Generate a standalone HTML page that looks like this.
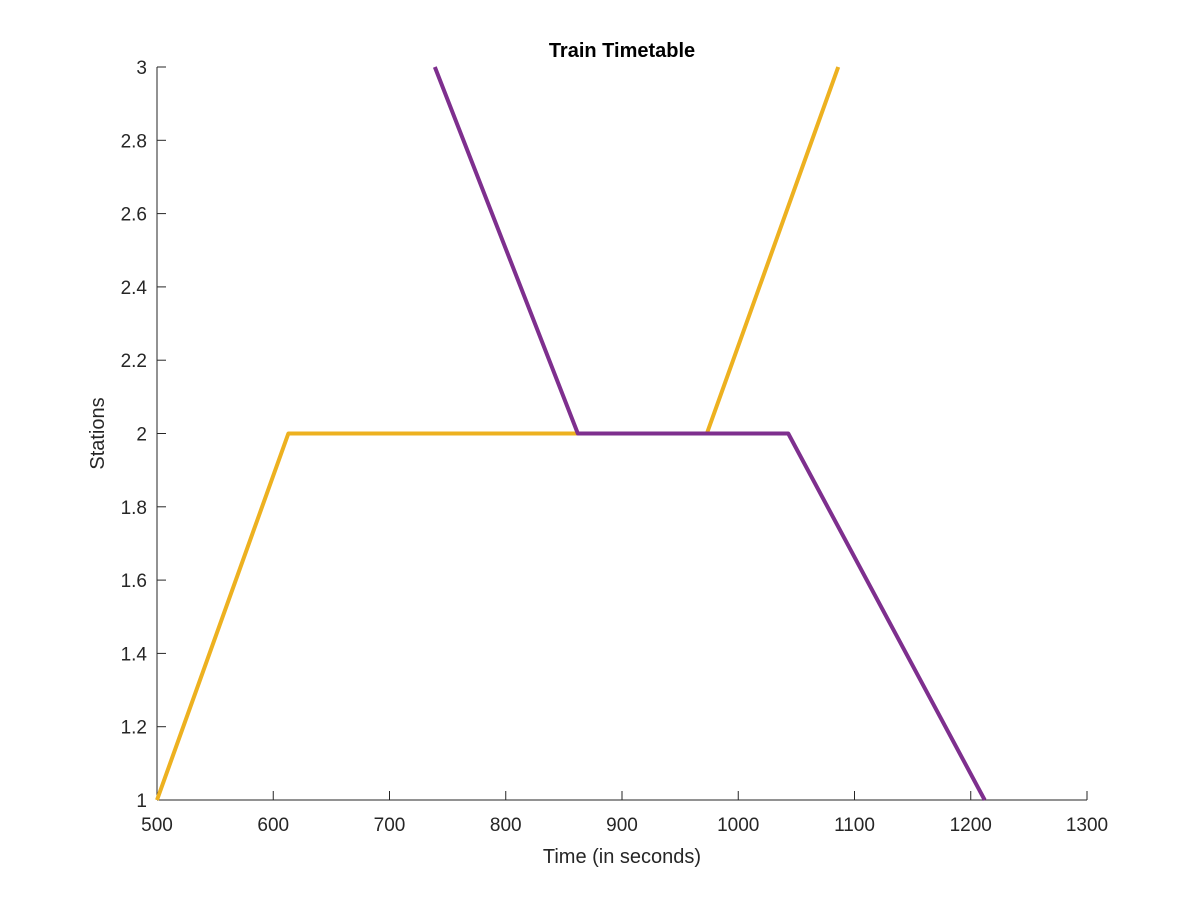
<!DOCTYPE html>
<html><head><meta charset="utf-8"><style>
body{margin:0;background:#fff;}
svg text{font-family:"Liberation Sans",Arial,sans-serif;fill:#262626;}
</style></head><body>
<svg id="chart" width="1200" height="900" xmlns="http://www.w3.org/2000/svg">
<rect width="1200" height="900" fill="#fff"/>
<g id="axes"></g>
<g id="series"></g>
</svg>
<script>
const xTicks=[500,600,700,800,900,1000,1100,1200,1300];
const yTicks=[1,1.2,1.4,1.6,1.8,2,2.2,2.4,2.6,2.8,3];
const yTickLabels=["1","1.2","1.4","1.6","1.8","2","2.2","2.4","2.6","2.8","3"];
const train1Time=[500,613,973,1086];
const train1Station=[1,2,2,3];
const train2Time=[739,862,1043,1212];
const train2Station=[3,2,2,1];

const X0=157,X1=1087,Y0=800,Y1=67;
const sx=v=>X0+(v-500)/(1300-500)*(X1-X0);
const sy=v=>Y0-(v-1)/(3-1)*(Y0-Y1);
const NS="http://www.w3.org/2000/svg";
function mk(tag,attrs,parent){const e=document.createElementNS(NS,tag);for(const k in attrs)e.setAttribute(k,attrs[k]);parent.appendChild(e);return e;}
const axes=document.getElementById('axes');
const series=document.getElementById('series');

const xa=mk('line',{x1:X0,y1:Y0,x2:X1,y2:Y0,stroke:'#262626','stroke-width':1},axes);


const ya=mk('line',{x1:X0,y1:Y0,x2:X0,y2:Y1,stroke:'#262626','stroke-width':1},axes);



xTicks.forEach(t=>{
  const x=sx(t);
  const tk=mk('line',{x1:x,y1:Y0,x2:x,y2:Y0-9,stroke:'#262626'},axes);
  
  
  const tx=mk('text',{x:x,y:Y0+31,'text-anchor':'middle','font-size':19},axes);
  tx.textContent=t;
  
  
});
yTicks.forEach((t,i)=>{
  const y=sy(t);
  const tk=mk('line',{x1:X0,y1:y,x2:X0+9,y2:y,stroke:'#262626'},axes);
  
  
  const tx=mk('text',{x:X0-10,y:y+7,'text-anchor':'end','font-size':19},axes);
  tx.textContent=yTickLabels[i];
  
  
});
const xt=mk('text',{x:(X0+X1)/2,y:863,'text-anchor':'middle','font-size':20},axes);
xt.textContent='Time (in seconds)';


const yt=mk('text',{x:104,y:(Y0+Y1)/2,'text-anchor':'middle','font-size':20,transform:`rotate(-90 104 ${(Y0+Y1)/2})`},axes);
yt.textContent='Stations';


const ti=mk('text',{x:(X0+X1)/2,y:57,'text-anchor':'middle','font-size':20,'font-weight':'bold'},axes);
ti.textContent='Train Timetable';


ti.style.fill='#000';

function line(xs,ys,color){
  return mk('polyline',{points:xs.map((v,i)=>sx(v)+','+sy(ys[i])).join(' '),fill:'none',stroke:color,'stroke-width':4,'stroke-linejoin':'round'},series);
}
const l1=line(train1Time,train1Station,'#EDB120');


const l2=line(train2Time,train2Station,'#7E2F8E');


</script>
</body></html>
